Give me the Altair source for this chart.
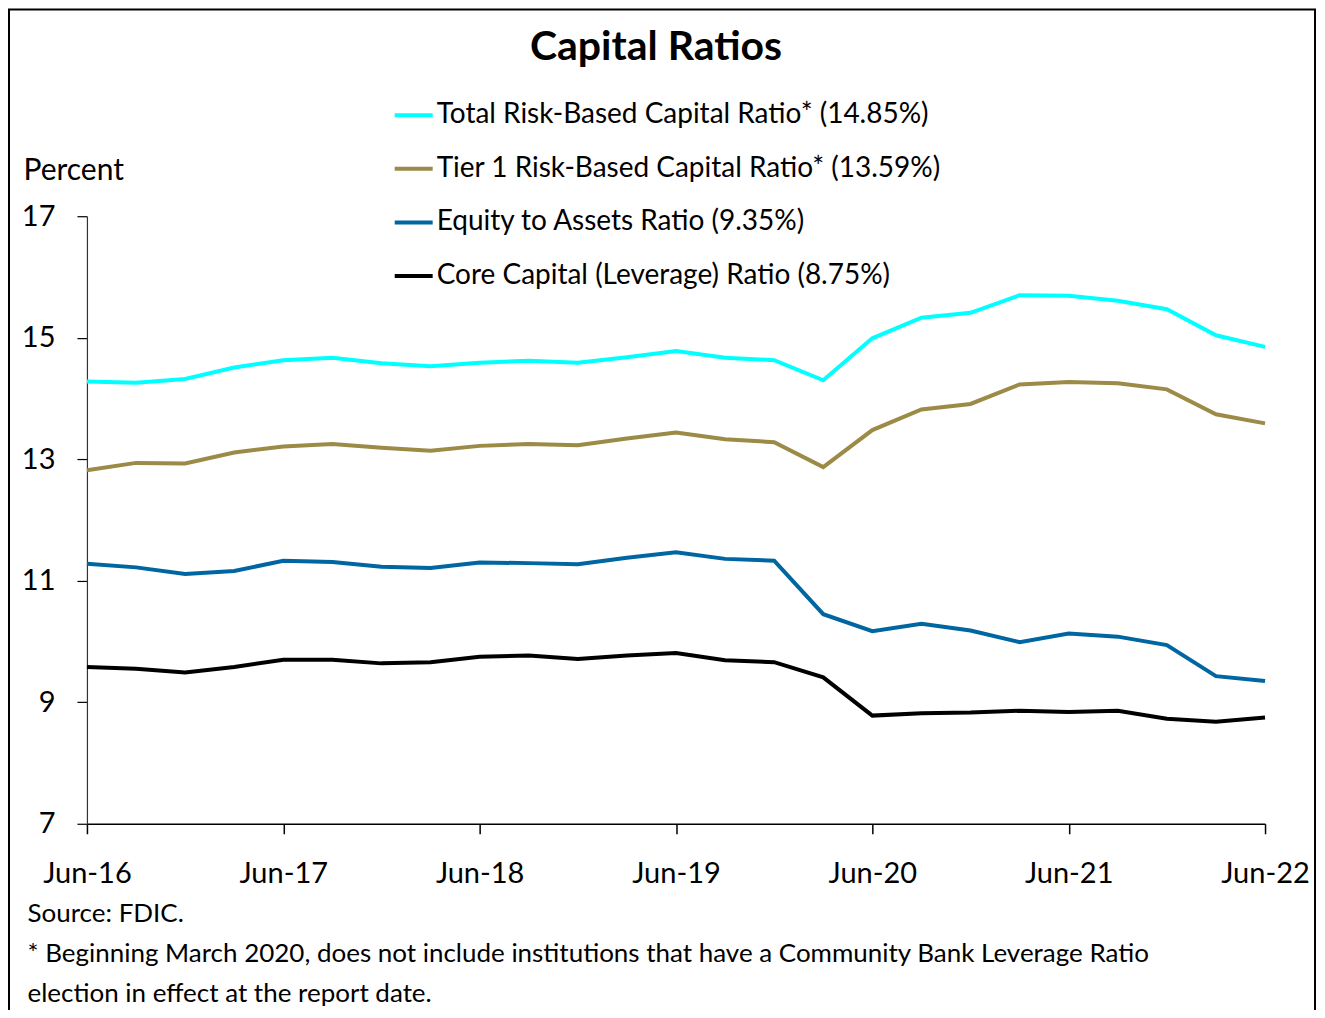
import altair as alt
import pandas as pd

quarters = ["Jun-16", "Sep-16", "Dec-16", "Mar-17", "Jun-17", "Sep-17", "Dec-17", "Mar-18",
            "Jun-18", "Sep-18", "Dec-18", "Mar-19", "Jun-19", "Sep-19", "Dec-19", "Mar-20",
            "Jun-20", "Sep-20", "Dec-20", "Mar-21", "Jun-21", "Sep-21", "Dec-21", "Mar-22", "Jun-22"]

total_rbc = [14.28, 14.26, 14.32, 14.51, 14.63, 14.67, 14.58, 14.53, 14.59, 14.62, 14.59, 14.68, 14.78,
             14.67, 14.63, 14.30, 14.99, 15.33, 15.41, 15.70, 15.69, 15.61, 15.47, 15.04, 14.85]
tier1 = [12.82, 12.94, 12.93, 13.11, 13.21, 13.25, 13.19, 13.14, 13.22, 13.25, 13.23, 13.34, 13.44,
         13.33, 13.28, 12.87, 13.48, 13.82, 13.91, 14.23, 14.27, 14.25, 14.15, 13.74, 13.59]
equity = [11.28, 11.22, 11.11, 11.16, 11.33, 11.31, 11.23, 11.21, 11.30, 11.29, 11.27, 11.38, 11.47,
          11.36, 11.33, 10.45, 10.17, 10.29, 10.18, 9.99, 10.13, 10.08, 9.94, 9.43, 9.35]
core = [9.58, 9.55, 9.49, 9.58, 9.70, 9.70, 9.64, 9.66, 9.75, 9.77, 9.71, 9.77, 9.81,
        9.69, 9.66, 9.41, 8.78, 8.82, 8.83, 8.86, 8.84, 8.86, 8.73, 8.68, 8.75]

series_labels = ["Total Risk-Based Capital Ratio* (14.85%)",
                 "Tier 1 Risk-Based Capital Ratio* (13.59%)",
                 "Equity to Assets Ratio (9.35%)",
                 "Core Capital (Leverage) Ratio (8.75%)"]
series_colors = ["#00FFFF", "#9C8A47", "#0066A1", "#000000"]

x_ticks = ["Jun-16", "Jun-17", "Jun-18", "Jun-19", "Jun-20", "Jun-21", "Jun-22"]
y_ticks = [7, 9, 11, 13, 15, 17]

title_text = "Capital Ratios"
y_title = "Percent"
notes = ["Source: FDIC.",
         "* Beginning March 2020, does not include institutions that have a Community Bank Leverage Ratio",
         "election in effect at the report date."]

rows = []
for label, vals in zip(series_labels, [total_rbc, tier1, equity, core]):
    for q, v in zip(quarters, vals):
        rows.append({"quarter": q, "series": label, "value": v})
df = pd.DataFrame(rows)

W, H = 1179, 608
PL, PT, PR, PB = 79, 208, 52, 186
FONT = "Lato"

lines = alt.Chart(df).mark_line(strokeWidth=4).encode(
    x=alt.X("quarter:O", sort=quarters,
            scale=alt.Scale(type="point", padding=0),
            axis=alt.Axis(values=x_ticks, labelAngle=0, tickSize=10, labelPadding=26,
                          labelFontSize=29, domainWidth=1.5, tickWidth=1.5,
                          title=notes, titleX=-60, titleY=77, titleAlign="left",
                          titleBaseline="top", titleLineHeight=40, titleFontSize=26,
                          titleFontWeight="normal", titleAngle=0)),
    y=alt.Y("value:Q",
            scale=alt.Scale(domain=[7, 17], nice=False, zero=False),
            axis=alt.Axis(values=y_ticks, grid=False, tickSize=10, labelPadding=22,
                          labelFontSize=29, domainColor="#333333", domainWidth=1.2,
                          tickWidth=1.2, title=y_title, titleAngle=0, titleAlign="left",
                          titleBaseline="middle", titleX=-64, titleY=-46,
                          titleFontSize=30, titleFontWeight="normal")),
    color=alt.Color("series:N",
                    scale=alt.Scale(domain=series_labels, range=series_colors),
                    legend=alt.Legend(orient="none", legendX=306, legendY=-122, title=None,
                                      symbolType="stroke", symbolSize=1444,
                                      symbolStrokeWidth=4, labelFontSize=28, labelFont=FONT,
                                      labelColor="black", labelLimit=0, labelOffset=2,
                                      rowPadding=18.6, padding=0, direction="vertical")),
)

frame = alt.Chart(alt.Data(values=[{}])).mark_rect(
    fillOpacity=0, stroke="black", strokeWidth=2
).encode(
    x=alt.value(-PL + 1), x2=alt.value(W + PR - 2),
    y=alt.value(-PT + 1), y2=alt.value(H + PB + 20),
)

chart = alt.layer(lines, frame).properties(
    width=W, height=H,
    title=alt.TitleParams(title_text, fontSize=41, font=FONT, fontWeight="bold",
                          anchor="middle", frame="group", dx=-20, offset=-61, color="black"),
    autosize=alt.AutoSizeParams(type="none"),
    padding={"left": PL, "top": PT, "right": PR, "bottom": PB},
).configure(font=FONT).configure_view(stroke=None).configure_axis(
    labelColor="black", titleColor="black", domainColor="black", tickColor="black",
    labelFont=FONT, titleFont=FONT,
)

chart.save("out.html", embed_options={"renderer": "svg", "actions": False})
